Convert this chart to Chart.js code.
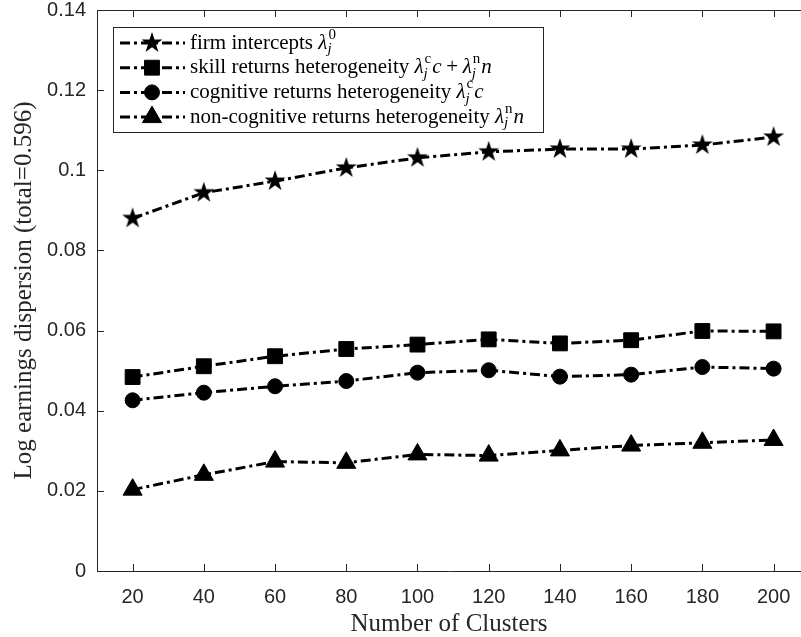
<!DOCTYPE html>
<html>
<head>
<meta charset="utf-8">
<script src="https://cdn.jsdelivr.net/npm/chart.js@4.4.1/dist/chart.umd.min.js"></script>
<style>
    html, body { margin: 0; padding: 0; background: #fff; }
    #wrap { width: 801px; height: 637px; }
</style>
</head>
<body>
<div id="wrap"><canvas id="clusters" width="801" height="637"></canvas></div>
<script>
var Clusters = [20, 40, 60, 80, 100, 120, 140, 160, 180, 200];
var FirmIntercepts = [0.0880, 0.0944, 0.0973, 0.1006, 0.1031, 0.1046, 0.1053, 0.1053, 0.1063, 0.1083];
var SkillReturns = [0.0484, 0.0511, 0.0536, 0.0554, 0.0565, 0.0578, 0.0568, 0.0576, 0.0599, 0.0598];
var CognitiveReturns = [0.0426, 0.0445, 0.0461, 0.0474, 0.0495, 0.0501, 0.0485, 0.0490, 0.0509, 0.0505];
var NonCognitiveReturns = [0.0203, 0.0240, 0.0273, 0.0270, 0.0291, 0.0288, 0.0301, 0.0313, 0.0320, 0.0327];
var XTicks = [20, 40, 60, 80, 100, 120, 140, 160, 180, 200];
var YTicks = [0, 0.02, 0.04, 0.06, 0.08, 0.1, 0.12, 0.14];
var LegendLabels = [
    'firm intercepts $λ_j^0$',
    'skill returns heterogeneity $λ_j^c c + λ_j^n n$',
    'cognitive returns heterogeneity $λ_j^c c$',
    'non-cognitive returns heterogeneity $λ_j^n n$'
];

var AxisColor = '#262626';
var SerifFont = '"Liberation Serif", "DejaVu Serif", serif';
var SansFont = '"Liberation Sans", Arial, sans-serif';

function toPoints(values) {
    return Clusters.map(function (c, i) { return { x: c, y: values[i] }; });
}

// MATLAB style filled pentagram, used as an image point style
function makeStar(r) {
    var size = Math.ceil(r * 2 + 2);
    var cv = document.createElement('canvas');
    cv.width = size; cv.height = size;
    var c = cv.getContext('2d');
    var cx = size / 2, cy = size / 2, inner = r * 0.382;
    c.beginPath();
    for (var k = 0; k < 10; k++) {
        var rad = -Math.PI / 2 + k * Math.PI / 5;
        var rr = (k % 2 === 0) ? r : inner;
        c.lineTo(cx + Math.cos(rad) * rr, cy + Math.sin(rad) * rr);
    }
    c.closePath();
    c.fillStyle = '#000';
    c.fill();
    return cv;
}
var StarImg = makeStar(11);

function dataset(label, values, style, radius) {
    return {
        label: label,
        data: toPoints(values),
        borderColor: '#000',
        backgroundColor: '#000',
        borderWidth: 3,
        borderDash: [10, 4, 3, 4],
        pointStyle: style,
        pointRadius: radius,
        pointBorderWidth: 1,
        pointBorderColor: '#000',
        pointBackgroundColor: '#000',
        tension: 0
    };
}

// draws text with a small subset of tex: $..$ math, _x subscript, ^x superscript
function drawRich(ctx, str, x, y, size) {
    var parts = str.split('$');
    for (var p = 0; p < parts.length; p++) {
        if (p % 2 === 0) {
            ctx.font = size + 'px ' + SerifFont;
            ctx.fillText(parts[p], x, y);
            x += ctx.measureText(parts[p]).width;
        } else {
            x = drawMath(ctx, parts[p], x, y, size);
        }
    }
    return x;
}
function drawMath(ctx, m, x, y, size) {
    var i = 0;
    var small = Math.round(size * 0.7);
    while (i < m.length) {
        var ch = m[i];
        if (ch === ' ') { i++; continue; }
        if (ch === '_' || ch === '^') {
            var sub = null, sup = null, w = 0;
            while (i < m.length && (m[i] === '_' || m[i] === '^')) {
                if (m[i] === '_') sub = m[i + 1]; else sup = m[i + 1];
                i += 2;
            }
            if (sup) {
                ctx.font = small + 'px ' + SerifFont;
                ctx.fillText(sup, x + 1, y - size * 0.4);
                w = Math.max(w, ctx.measureText(sup).width + 1);
            }
            if (sub) {
                ctx.font = 'italic ' + small + 'px ' + SerifFont;
                ctx.fillText(sub, x, y + size * 0.3);
                w = Math.max(w, ctx.measureText(sub).width);
            }
            x += w + 1;
            continue;
        }
        if (ch === '+') {
            ctx.font = size + 'px ' + SerifFont;
            x += size * 0.22;
            ctx.fillText('+', x, y);
            x += ctx.measureText('+').width + size * 0.22;
        } else {
            ctx.font = (/[0-9]/.test(ch) ? '' : 'italic ') + size + 'px ' + SerifFont;
            ctx.fillText(ch, x, y);
            x += ctx.measureText(ch).width;
        }
        i++;
    }
    return x;
}

// box on top edge and inward ticks like MATLAB
var FramePlugin = {
    id: 'frame',
    afterDraw: function (chart) {
        var ctx = chart.ctx, a = chart.chartArea;
        var xs = chart.scales.x, ys = chart.scales.y;
        ctx.save();
        ctx.strokeStyle = AxisColor;
        ctx.lineWidth = 1;
        ctx.beginPath();
        ctx.moveTo(a.left, a.top + 0.5);
        ctx.lineTo(a.right, a.top + 0.5);
        XTicks.forEach(function (v) {
            var px = Math.round(xs.getPixelForValue(v)) + 0.5;
            ctx.moveTo(px, a.bottom); ctx.lineTo(px, a.bottom - 7);
            ctx.moveTo(px, a.top); ctx.lineTo(px, a.top + 7);
        });
        YTicks.forEach(function (v) {
            var py = Math.round(ys.getPixelForValue(v)) + 0.5;
            ctx.moveTo(a.left, py); ctx.lineTo(a.left + 7, py);
        });
        ctx.stroke();
        ctx.restore();
    }
};

// legend with sub/superscripts in the labels
var LegendPlugin = {
    id: 'texLegend',
    afterDraw: function (chart) {
        var ctx = chart.ctx;
        var box = { left: 113.5, top: 27.5, right: 543.5, bottom: 132.5 };
        ctx.save();
        ctx.fillStyle = '#fff';
        ctx.fillRect(box.left, box.top, box.right - box.left, box.bottom - box.top);
        ctx.strokeStyle = AxisColor;
        ctx.lineWidth = 1;
        ctx.strokeRect(box.left, box.top, box.right - box.left, box.bottom - box.top);
        chart.data.datasets.forEach(function (ds, i) {
            var cy = 43 + i * 24.7;
            ctx.strokeStyle = '#000';
            ctx.lineWidth = 3;
            ctx.setLineDash(ds.borderDash);
            ctx.beginPath();
            ctx.moveTo(120, cy); ctx.lineTo(185, cy);
            ctx.stroke();
            ctx.setLineDash([]);
            ctx.fillStyle = '#000';
            ctx.lineWidth = 1;
            Chart.helpers.drawPoint(ctx, { pointStyle: ds.pointStyle, radius: ds.pointRadius, borderWidth: 1, rotation: 0 }, 152, cy);
            ctx.fillStyle = '#000';
            ctx.textBaseline = 'middle';
            ctx.textAlign = 'left';
            drawRich(ctx, LegendLabels[i], 190, cy, 21);
        });
        ctx.restore();
    }
};

var ctxEl = document.getElementById('clusters');
new Chart(ctxEl, {
    type: 'line',
    plugins: [FramePlugin, LegendPlugin],
    data: {
        datasets: [
            dataset('firm intercepts', FirmIntercepts, StarImg, 11),
            dataset('skill returns heterogeneity', SkillReturns, 'rect', 10.5),
            dataset('cognitive returns heterogeneity', CognitiveReturns, 'circle', 7.5),
            dataset('non-cognitive returns heterogeneity', NonCognitiveReturns, 'triangle', 11)
        ]
    },
    options: {
        responsive: false,
        animation: false,
        layout: { autoPadding: false, padding: { top: 10, right: 0, bottom: 0, left: 0 } },
        plugins: {
            legend: { display: false },
            tooltip: { enabled: false }
        },
        scales: {
            x: {
                type: 'linear',
                min: 10,
                max: 207.7,
                afterBuildTicks: function (s) { s.ticks = XTicks.map(function (v) { return { value: v }; }); },
                afterFit: function (s) { s.height = 66; s.paddingLeft = 0; s.paddingRight = 0; },
                grid: { drawOnChartArea: false, drawTicks: false },
                border: { color: AxisColor, width: 1 },
                ticks: {
                    color: AxisColor,
                    padding: 16,
                    maxRotation: 0,
                    autoSkip: false,
                    font: { family: SansFont, size: 20, lineHeight: 1 },
                    callback: function (v) { return String(v); }
                },
                title: {
                    display: true,
                    text: 'Number of Clusters',
                    color: AxisColor,
                    font: { family: SerifFont, size: 25, lineHeight: 1 },
                    padding: { top: 0, bottom: 0 }
                }
            },
            y: {
                min: 0,
                max: 0.14,
                afterBuildTicks: function (s) { s.ticks = YTicks.map(function (v) { return { value: v }; }); },
                afterFit: function (s) { s.width = 97; s.paddingTop = 0; s.paddingBottom = 0; },
                grid: { drawOnChartArea: false, drawTicks: false },
                border: { color: AxisColor, width: 1 },
                ticks: {
                    color: AxisColor,
                    padding: 11,
                    font: { family: SansFont, size: 20, lineHeight: 1 },
                    callback: function (v) { return String(Number(v.toFixed(2))); }
                },
                title: {
                    display: true,
                    text: 'Log earnings dispersion (total=0.596)',
                    color: AxisColor,
                    font: { family: SerifFont, size: 25, lineHeight: 1 },
                    padding: { top: 12, bottom: 0 }
                }
            }
        }
    }
});
</script>
</body>
</html>
